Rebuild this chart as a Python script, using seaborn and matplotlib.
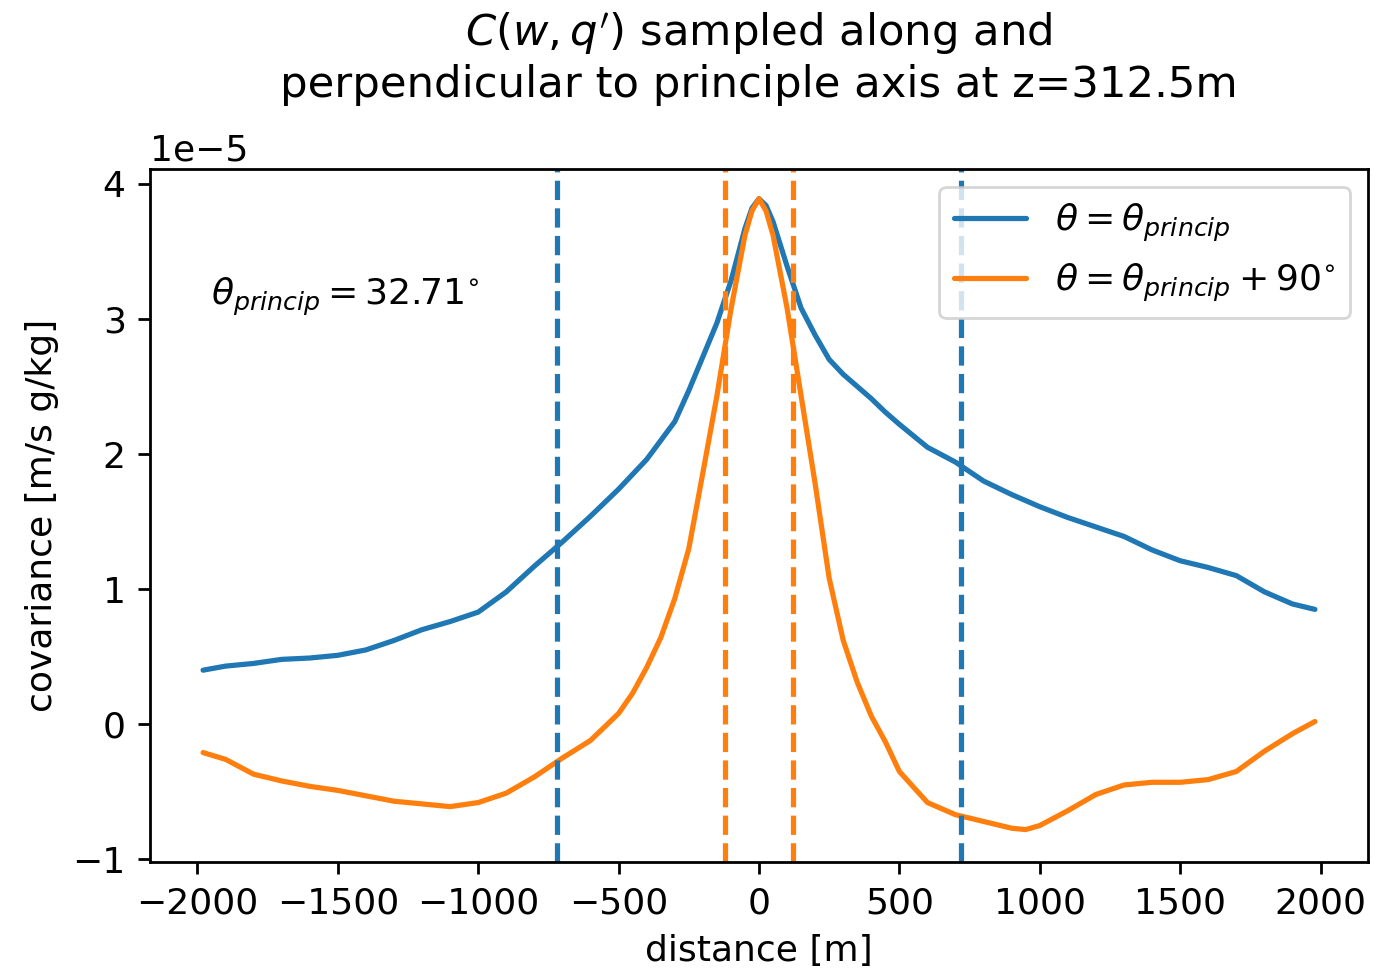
import numpy as np
import pandas as pd
import matplotlib
matplotlib.use("Agg")
import matplotlib.pyplot as plt
import seaborn as sns

# distance [m] and covariance (units of 1e-5 m/s g/kg)
dist_along = [-1980, -1900, -1800, -1700, -1600, -1500, -1400, -1300, -1200, -1100,
              -1000, -900, -800, -700, -600, -500, -400, -300, -250, -200,
              -150, -100, -50, -25, 0, 25, 50, 100, 150, 200, 250, 300, 350,
              400, 450, 500, 600, 700, 800, 900, 1000, 1100, 1200, 1300,
              1400, 1500, 1600, 1700, 1800, 1900, 1980]
cov_along = [0.40, 0.43, 0.45, 0.48, 0.49, 0.51, 0.55, 0.62, 0.70, 0.76,
             0.83, 0.98, 1.17, 1.35, 1.54, 1.74, 1.96, 2.24, 2.47, 2.72,
             2.97, 3.28, 3.67, 3.82, 3.89, 3.84, 3.72, 3.39, 3.08, 2.88, 2.70, 2.59, 2.50,
             2.41, 2.31, 2.22, 2.05, 1.94, 1.80, 1.70, 1.61, 1.53, 1.46, 1.39,
             1.29, 1.21, 1.16, 1.10, 0.98, 0.89, 0.85]

dist_perp = [-1980, -1900, -1800, -1700, -1600, -1500, -1400, -1300, -1200, -1100,
             -1000, -900, -800, -700, -600, -500, -450, -400, -350, -300, -250,
             -200, -150, -100, -50, -25, 0, 25, 50, 100, 150, 200, 250,
             300, 350, 400, 450, 500, 600, 700, 800, 900, 950,
             1000, 1100, 1200, 1300, 1400, 1500, 1600, 1700, 1800, 1900, 1980]
cov_perp = [-0.21, -0.26, -0.37, -0.42, -0.46, -0.49, -0.53, -0.57, -0.59, -0.61,
            -0.58, -0.51, -0.39, -0.25, -0.12, 0.08, 0.23, 0.42, 0.64, 0.93, 1.30,
            1.86, 2.43, 3.07, 3.62, 3.80, 3.89, 3.80, 3.62, 3.08, 2.43, 1.78, 1.08,
            0.62, 0.31, 0.06, -0.13, -0.35, -0.58, -0.67, -0.72, -0.77, -0.78,
            -0.75, -0.64, -0.52, -0.45, -0.43, -0.43, -0.41, -0.35, -0.20, -0.07, 0.02]

length_along = 720
length_perp = 120
theta_princip = 32.71
scale = 1e-5

sns.set_style("ticks", {"axes.edgecolor": "black", "text.color": "black",
                        "xtick.color": "black", "ytick.color": "black",
                        "axes.labelcolor": "black"})
plt.rcParams["font.family"] = ["DejaVu Sans"]
plt.rcParams["font.size"] = 13
plt.rcParams["mathtext.fontset"] = "dejavusans"

k = 1.25  # line/tick scale relative to defaults
fig, ax = plt.subplots(figsize=(6.98, 4.86), dpi=200)
fig.subplots_adjust(left=150/1396, right=1368/1396, top=1-169/972, bottom=1-862/972)

blue = "#1f77b4"
orange = "#ff7f0e"
lw = 1.5 * k

sns.lineplot(x=dist_along, y=np.array(cov_along) * scale, ax=ax, color=blue, lw=lw,
             label=r"$\theta = \theta_{princip}$")
sns.lineplot(x=dist_perp, y=np.array(cov_perp) * scale, ax=ax, color=orange, lw=lw,
             label=r"$\theta = \theta_{princip} + 90^{\circ}$")

for v in (-length_along, length_along):
    ax.axvline(v, color=blue, ls="--", lw=lw)
for v in (-length_perp, length_perp):
    ax.axvline(v, color=orange, ls="--", lw=lw)

ax.text(-1950, 3.1e-5, r"$\theta_{princip} = %.2f^{\circ}$" % theta_princip, fontsize=13)

ax.set_xlim(-2169, 2169)
ax.set_ylim(-1.02e-5, 4.11e-5)
ax.set_xticks([-2000, -1500, -1000, -500, 0, 500, 1000, 1500, 2000])
ax.tick_params(labelsize=13, length=3.5 * k, width=0.8 * k, pad=3.5 * k)
ax.set_xlabel("distance [m]", fontsize=13, labelpad=4 * k)
ax.set_ylabel("covariance [m/s g/kg]", fontsize=13, labelpad=4 * k)
ax.set_title(r"$C(w,q')$ sampled along and" + "\nperpendicular to principle axis at z=312.5m",
             fontsize=15.6, pad=26)
leg = ax.legend(loc="upper right", fontsize=13)
leg.get_frame().set_linewidth(0.8 * k)
for s in ax.spines.values():
    s.set_visible(True)
    s.set_linewidth(0.8 * k)

fig.savefig("out.png", dpi=200)
